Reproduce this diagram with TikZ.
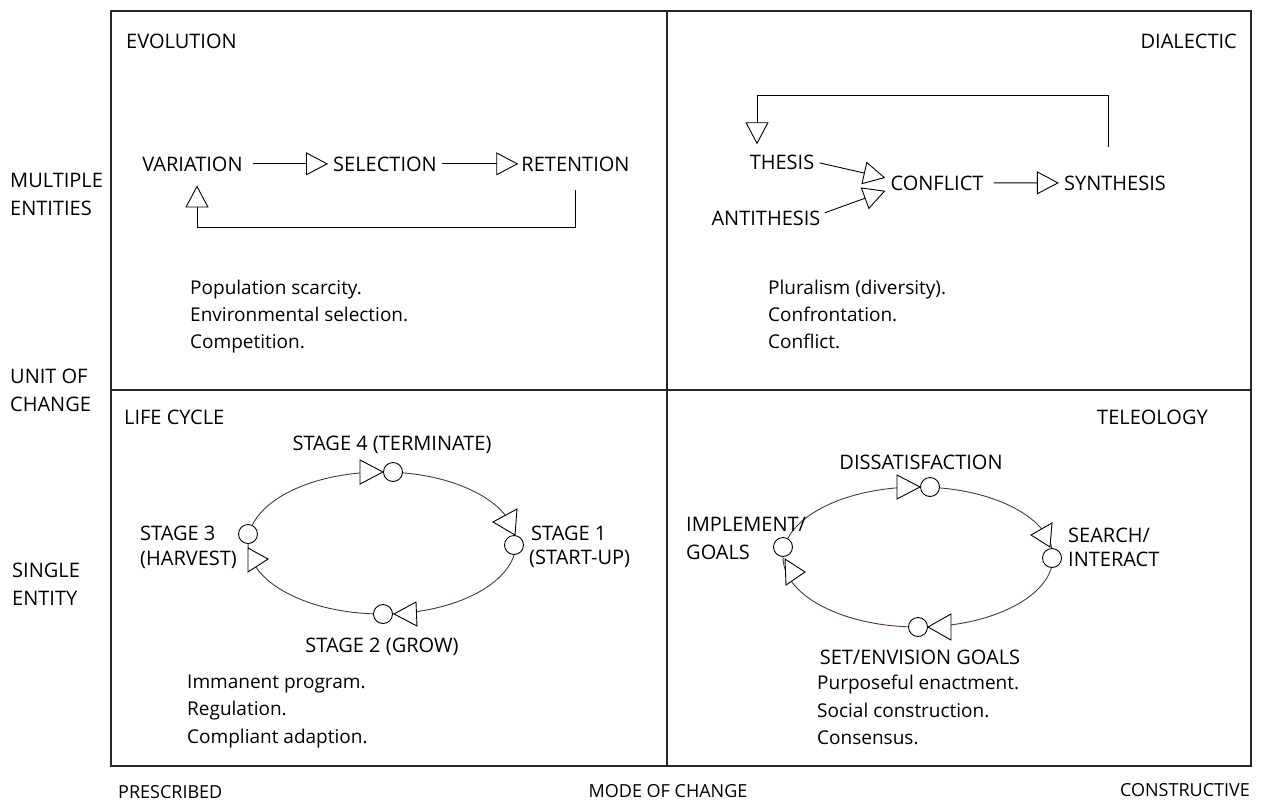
\documentclass[tikz,border=0pt]{standalone}
\usepackage{fontspec}
\setmainfont{Open Sans}
\usetikzlibrary{arrows.meta,calc}
\definecolor{ellcol}{RGB}{85,55,40}
\begin{document}
\begin{tikzpicture}[x=1pt,y=-1pt,
  txt/.style={inner sep=0pt, font=\fontsize{20}{24}\selectfont},
  lbl/.style={txt, anchor=base west},
  lblc/.style={txt, anchor=base},
  lble/.style={txt, anchor=base east},
  axis/.style={inner sep=0pt, font=\fontsize{18}{22}\selectfont},
  note/.style={inner sep=0pt, anchor=base west, font=\fontsize{19}{23}\selectfont},
  box/.style={draw=black!85, line width=1.3pt},
  arr/.style={line width=0.9pt, -{Triangle[open, length=22pt, width=23pt]}},
  tri/.style={draw, fill=white, line width=0.9pt, line join=miter},
  dot/.style={circle, draw, fill=white, minimum size=19pt, inner sep=0pt, line width=0.9pt},
  ell/.style={draw=ellcol, line width=0.9pt}
]
\useasboundingbox (0,0) rectangle (1264,801);
% quadrants
\draw[box] (111,11) rectangle (667,390);
\draw[box] (667,11) rectangle (1251,390);
\draw[box] (111,390) rectangle (667,766);
\draw[box] (667,390) rectangle (1251,766);

% axis labels
\node[lbl] (mult1) at (10,187) {MULTIPLE};
\node[lbl] (mult2) at (10,215) {ENTITIES};
\node[lbl] (unit1) at (10,383) {UNIT OF};
\node[lbl] (unit2) at (10,411) {CHANGE};
\node[lbl] (sing1) at (12,577) {SINGLE};
\node[lbl] (sing2) at (12,605) {ENTITY};
\node[axis, anchor=base west] (presc) at (118,798) {PRESCRIBED};
\node[axis, anchor=base] (mode) at (668,797) {MODE OF CHANGE};
\node[axis, anchor=base east] (constr) at (1250,796) {CONSTRUCTIVE};

% quadrant titles
\node[lbl] (evo) at (126,48) {EVOLUTION};
\node[lble] (dia) at (1237,48) {DIALECTIC};
\node[lbl] (lc) at (124,424) {LIFE CYCLE};
\node[lble] (tel) at (1208,424) {TELEOLOGY};

% evolution
\node[lblc] (variation) at (192.5,171) {VARIATION};
\node[lblc] (selection) at (385,171) {SELECTION};
\node[lblc] (retention) at (575.5,171) {RETENTION};
\draw[arr, shorten <=10pt, shorten >=5pt] (variation.east) -- (selection.west);
\draw[arr, shorten <=5pt, shorten >=3pt] (selection.east) -- (retention.west);
\coordinate (evb) at (197,227);
\draw[arr, shorten <=19pt, shorten >=14pt] (retention.south) |- (evb) -- (evb |- variation.south);
\node[note] (e1) at (190,294) {Population scarcity.};
\node[note] (e2) at (190,321) {Environmental selection.};
\node[note] (e3) at (190,348) {Competition.};

% dialectic
\node[lblc] (thesis) at (782,169) {THESIS};
\node[lblc] (antithesis) at (766,225) {ANTITHESIS};
\node[lblc] (conflict) at (937,190) {CONFLICT};
\node[lblc] (synthesis) at (1115,190) {SYNTHESIS};
\draw[arr] ($(thesis.east)+(5,1)$) -- ($(conflict.west)+(-5,-5)$);
\draw[arr] ($(antithesis.east)+(4,-5)$) -- ($(conflict.west)+(-5,8)$);
\draw[arr, shorten <=10pt, shorten >=5pt] (conflict.east) -- (synthesis.west);
\draw[arr] ($(synthesis.north)+(-7,-28)$) |- ($(thesis.north)+(-25,-59)$) -- ($(thesis.north)+(-25,-10)$);
\node[note] (d1) at (768,294) {Pluralism (diversity).};
\node[note] (d2) at (768,321) {Confrontation.};
\node[note] (d3) at (768,348) {Conflict.};

% life cycle
\draw[ell] (382,543) ellipse [x radius=134, y radius=71];
\draw[tri] (360,460) -- (383,472) -- (360,484) -- cycle;
\draw[tri] (517,509) -- (493,522) -- (515,535) -- cycle;
\draw[tri] (416,602) -- (394,614) -- (417,626) -- cycle;
\draw[tri] (248,548) -- (268,559) -- (248,572) -- cycle;
\node[dot] (lc4) at (393,472) {};
\node[dot] (lc1) at (514,545) {};
\node[dot] (lc2) at (383,614) {};
\node[dot] (lc3) at (248,534) {};
\node[lblc] (st4) at (392,450) {STAGE 4 (TERMINATE)};
\node[lbl] (st3a) at (140,540) {STAGE 3};
\node[lbl] (st3b) at (140,565) {(HARVEST)};
\node[lbl] (st1a) at (531,540) {STAGE 1};
\node[lbl] (st1b) at (529,564) {(START-UP)};
\node[lblc] (st2) at (382,652) {STAGE 2 (GROW)};
\node[note] (l1) at (187,688) {Immanent program.};
\node[note] (l2) at (187,715) {Regulation.};
\node[note] (l3) at (187,743) {Compliant adaption.};

% teleology
\draw[ell] (918,557) ellipse [x radius=135, y radius=70];
\draw[tri] (897,475) -- (920,487) -- (897,499) -- cycle;
\draw[tri] (1052,523) -- (1031,535) -- (1050,547) -- cycle;
\draw[tri] (951,614) -- (928,627) -- (951,640) -- cycle;
\draw[tri] (785,559) -- (805,572) -- (786,585) -- cycle;
\node[dot] (tdis) at (930,487) {};
\node[dot] (tsea) at (1052,558) {};
\node[dot] (tset) at (918,627) {};
\node[dot] (timp) at (783,547) {};
\node[lblc] (dis) at (921,469) {DISSATISFACTION};
\node[lbl] (sea1) at (1068,542) {SEARCH/};
\node[lbl] (sea2) at (1068,566) {INTERACT};
\node[lbl] (imp1) at (686,531) {IMPLEMENT/};
\node[lbl] (imp2) at (686,559) {GOALS};
\node[lblc] (setg) at (920,664) {SET/ENVISION GOALS};
\node[note] (t1) at (817,689) {Purposeful enactment.};
\node[note] (t2) at (817,717) {Social construction.};
\node[note] (t3) at (817,744) {Consensus.};
\end{tikzpicture}
\end{document}
